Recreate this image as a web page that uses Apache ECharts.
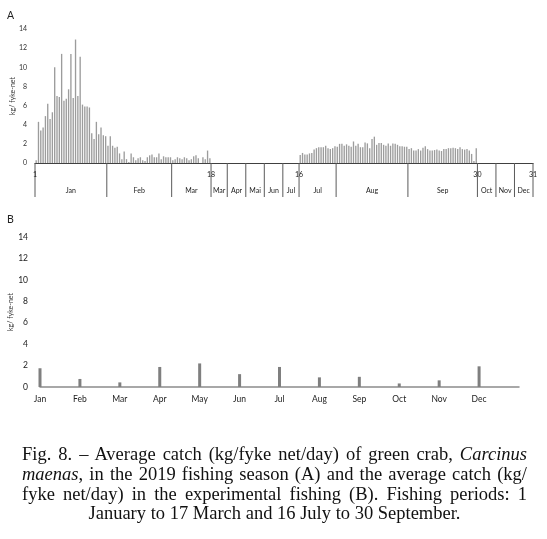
<!DOCTYPE html>
<html>
<head>
<meta charset="utf-8">
<script src="https://cdn.jsdelivr.net/npm/echarts@6/dist/echarts.min.js"></script>
<style>
  html, body { margin: 0; padding: 0; background: #fff; }
  #wrap { position: relative; width: 547px; height: 539px; overflow: hidden; }
  #chart { position: absolute; left: 0; top: 0; width: 547px; height: 539px; }
  #caption { position: absolute; left: 22px; top: 445px; width: 505px;
    font-family: "Liberation Serif", "DejaVu Serif", serif; font-size: 18.5px; line-height: 19.8px; color: #111; }
  #caption .j { text-align: justify; text-align-last: justify; white-space: nowrap; }
  #caption .c { text-align: center; }
</style>
</head>
<body>
<div id="wrap">
  <div id="chart"></div>
  <div id="caption">
    <div class="j">Fig. 8. – Average catch (kg/fyke net/day) of green crab, <i>Carcinus</i></div>
    <div class="j"><i>maenas</i>, in the 2019 fishing season (A) and the average catch (kg/</div>
    <div class="j">fyke net/day) in the experimental fishing (B). Fishing periods: 1</div>
    <div class="c">January to 17 March and 16 July to 30 September.</div>
  </div>
</div>
<script>
// ---- Panel A: daily average catch (kg / fyke-net), 2019 fishing season ----
const janA = [0.3, 4.3, 3.4, 3.7, 4.9, 6.2, 4.6, 5.3, 10.0, 7.0, 6.9, 11.4, 6.5, 6.7, 7.7, 11.4, 6.8, 12.9, 7.0, 11.1, 6.1, 5.9, 5.9, 5.8, 3.1, 2.5, 4.3, 3.0, 3.7, 2.9, 2.8];
const febA = [1.8, 2.8, 1.8, 1.6, 1.7, 1.0, 0.4, 1.2, 0.4, 0.1, 1.0, 0.6, 0.3, 0.5, 0.6, 0.3, 0.2, 0.6, 0.8, 0.9, 0.6, 0.6, 1.0, 0.4, 0.7, 0.6, 0.6, 0.6];
const marA = [0.3, 0.4, 0.6, 0.5, 0.4, 0.6, 0.5, 0.3, 0.4, 0.7, 0.8, 0.5, 0.0, 0.6, 0.4, 1.3, 0.5];
const julA = [0.84, 1.05, 0.9, 0.9, 1.0, 1.05, 1.4, 1.55, 1.65, 1.65, 1.65, 1.8, 1.55, 1.45, 1.55, 1.75];
const augA = [1.7, 2.0, 2.0, 1.8, 1.95, 1.8, 1.7, 2.25, 1.8, 2.0, 1.65, 1.65, 2.15, 2.05, 1.55, 2.5, 2.75, 1.9, 2.1, 2.1, 1.9, 1.8, 2.05, 1.8, 2.05, 2.0, 1.9, 1.75, 1.75, 1.7, 1.7];
const sepA = [1.45, 1.55, 1.3, 1.3, 1.45, 1.3, 1.6, 1.75, 1.45, 1.3, 1.3, 1.35, 1.4, 1.3, 1.25, 1.45, 1.45, 1.55, 1.55, 1.6, 1.55, 1.45, 1.65, 1.45, 1.4, 1.45, 1.3, 0.95, 0.2, 1.55];

// Two-level category axis of panel A
const axisMonths    = ['Jan','Feb','Mar','Mar','Apr','Mai','Jun','Jul','Jul','Aug','Sep','Oct','Nov','Dec'];
const axisMonthSpan = [31, 28, 17, 7, 8, 8, 8, 7, 16, 31, 30, 8, 8, 8];
const axisFirstDay  = [1, 1, 1, 18, 1, 1, 1, 1, 16, 1, 1, 1, 1, 1];
const dayTicks      = ['1', '18', '16', '30', '31'];
const dayTickBoundary = [0, 3, 8, 11, 14];   // boundary before segment n (14 = end)

// ---- Panel B: experimental fishing, monthly average catch ----
const monthsB = ['Jan','Feb','Mar','Apr','May','Jun','Jul','Aug','Sep','Oct','Nov','Dec'];
const valuesB = [1.75, 0.75, 0.43, 1.87, 2.2, 1.2, 1.87, 0.9, 0.95, 0.33, 0.62, 1.93];

// build panel A categories / values from the arrays above
const segData = { 0: janA, 1: febA, 2: marA, 8: julA, 9: augA, 10: sepA };
const catsA = [], valsA = [], segItems = [];
let pos = 0;
axisMonths.forEach((m, i) => {
  const span = axisMonthSpan[i];
  segItems.push([pos, 0, pos + span]);
  for (let k = 0; k < span; k++) {
    catsA.push(m + ' ' + (axisFirstDay[i] + k) + '#' + i);
    valsA.push(segData[i] ? segData[i][k] : null);
  }
  pos += span;
});
const NA = catsA.length;
const boundaries = [0];
axisMonthSpan.forEach(s => boundaries.push(boundaries[boundaries.length - 1] + s));
const dayItems = dayTicks.map((t, i) => [boundaries[dayTickBoundary[i]], 0]);

const FONT = 'Lato, "Liberation Sans", sans-serif';
const chart = echarts.init(document.getElementById('chart'), null, { renderer: 'canvas' });

function edgeX(api, b) {
  const bw = api.size([1, 0])[0];
  if (b < NA) return api.coord([b, 0])[0] - bw / 2;
  return api.coord([NA - 1, 0])[0] + bw / 2;
}

chart.setOption({
  animation: false,
  textStyle: { fontFamily: FONT },
  title: [
    { text: 'A', left: 2, top: 5, textStyle: { fontSize: 10.5, fontWeight: 'normal', color: '#222', fontFamily: FONT } },
    { text: 'B', left: 2, top: 209, textStyle: { fontSize: 10.5, fontWeight: 'normal', color: '#222', fontFamily: FONT } }
  ],
  grid: [
    { left: 35, right: 14, top: 29, height: 134, containLabel: false, outerBoundsMode: 'none' },
    { left: 40, width: 479, top: 237, height: 150, containLabel: false, outerBoundsMode: 'none' }
  ],
  xAxis: [
    { type: 'category', gridIndex: 0, data: catsA, boundaryGap: true,
      axisLine: { lineStyle: { color: '#404040', width: 1 } },
      axisTick: { show: false }, axisLabel: { show: false } },
    { type: 'category', gridIndex: 1, data: monthsB.concat(['']), boundaryGap: false,
      axisLine: { lineStyle: { color: '#8c8c8c', width: 1.5 } },
      axisTick: { show: false },
      axisLabel: { fontSize: 8.5, color: '#222', margin: 8, interval: 0, fontFamily: FONT } }
  ],
  yAxis: [
    { type: 'value', gridIndex: 0, min: 0, max: 14, interval: 2,
      splitLine: { show: false }, axisLine: { show: false }, axisTick: { show: false },
      axisLabel: { fontSize: 7, color: '#333', margin: 8, fontFamily: FONT },
      name: 'kg/ fyke-net', nameLocation: 'middle', nameGap: 19, nameMoveOverlap: false,
      nameTextStyle: { fontSize: 7, color: '#333', fontFamily: FONT } },
    { type: 'value', gridIndex: 1, min: 0, max: 14, interval: 2,
      splitLine: { show: false }, axisLine: { show: false }, axisTick: { show: false },
      axisLabel: { fontSize: 8.5, color: '#222', margin: 12, fontFamily: FONT },
      name: 'kg/ fyke-net', nameLocation: 'middle', nameGap: 26, nameMoveOverlap: false,
      nameTextStyle: { fontSize: 7, color: '#333', fontFamily: FONT } }
  ],
  series: [
    { type: 'bar', xAxisIndex: 0, yAxisIndex: 0, data: valsA, barWidth: '58%',
      itemStyle: { color: '#9c9c9c' }, silent: true },
    { type: 'custom', xAxisIndex: 0, yAxisIndex: 0, data: segItems, silent: true, clip: false,
      encode: { x: 0, y: 1 },
      renderItem: function (params, api) {
        const s = api.value(0), e = api.value(2);
        const x0 = edgeX(api, s), x1 = edgeX(api, e);
        const y0 = api.coord([0, 0])[1];
        const children = [
          { type: 'line', shape: { x1: x0, y1: y0, x2: x0, y2: y0 + 34 },
            style: { stroke: '#5a5a5a', lineWidth: 1 } },
          { type: 'text', style: { x: (x0 + x1) / 2, y: y0 + 28, text: axisMonths[params.dataIndex],
            fill: '#222', font: '7px ' + FONT, textAlign: 'center', textVerticalAlign: 'middle' } }
        ];
        if (params.dataIndex === axisMonths.length - 1) {
          children.push({ type: 'line', shape: { x1: x1, y1: y0, x2: x1, y2: y0 + 34 },
            style: { stroke: '#5a5a5a', lineWidth: 1 } });
        }
        return { type: 'group', children: children };
      } },
    { type: 'custom', xAxisIndex: 0, yAxisIndex: 0, data: dayItems, silent: true, clip: false,
      encode: { x: 0, y: 1 },
      renderItem: function (params, api) {
        const x = edgeX(api, api.value(0));
        const y0 = api.coord([0, 0])[1];
        return { type: 'text', style: { x: x, y: y0 + 12, text: dayTicks[params.dataIndex],
          fill: '#222', font: '7px ' + FONT, textAlign: 'center', textVerticalAlign: 'middle' } };
      } },
    { type: 'bar', xAxisIndex: 1, yAxisIndex: 1, data: valuesB, barWidth: 3,
      itemStyle: { color: '#7f7f7f' }, silent: true }
  ]
});
</script>
</body>
</html>
